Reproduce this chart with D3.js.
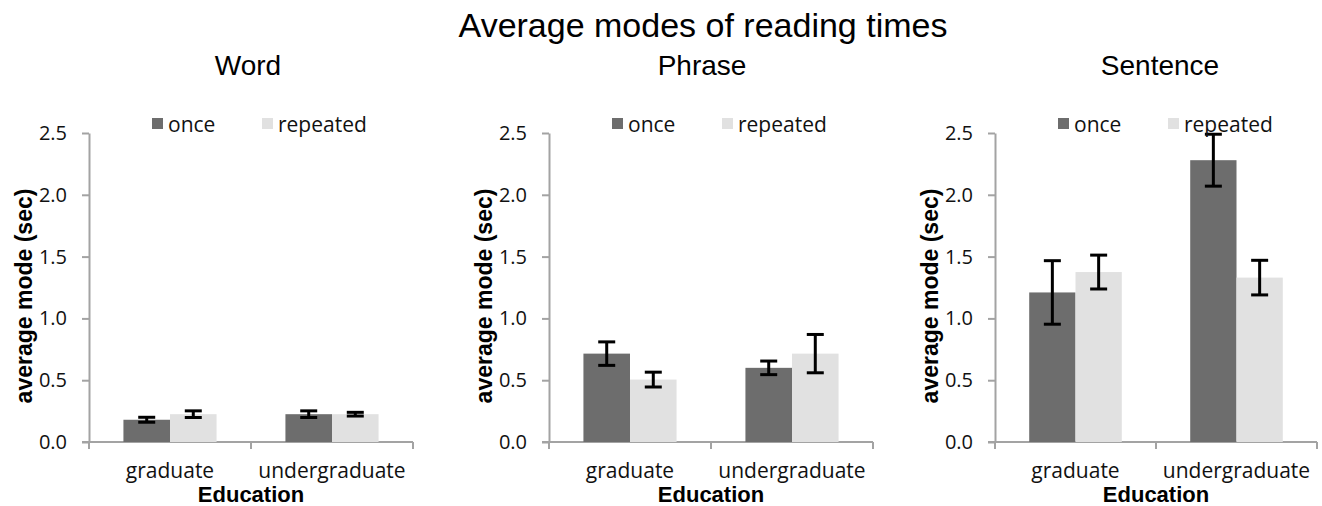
<!DOCTYPE html>
<html lang="en">
    <head>
        <meta charset="utf-8">
        <title>Average modes of reading times</title>
		<script src="https://d3js.org/d3.v7.min.js"></script>
		<style>
			body { margin: 0; background: #fff; }
			svg { display: block; }
		</style>
    </head>
    <body>
		<div class="chart"></div>

        <script type="text/javascript">
			// values
			const categories = ['graduate', 'undergraduate'];
			const series = ['once', 'repeated'];
			const panels = ['Word', 'Phrase', 'Sentence'];
			const yTicks = [0, 0.5, 1.0, 1.5, 2.0, 2.5];

			const wordOnce = [0.18, 0.225];
			const wordRepeated = [0.225, 0.225];
			const wordOnceErr = [0.02, 0.027];
			const wordRepeatedErr = [0.027, 0.015];

			const phraseOnce = [0.715, 0.60];
			const phraseRepeated = [0.505, 0.715];
			const phraseOnceErr = [0.095, 0.055];
			const phraseRepeatedErr = [0.06, 0.155];

			const sentenceOnce = [1.21, 2.28];
			const sentenceRepeated = [1.375, 1.33];
			const sentenceOnceErr = [0.257, 0.21];
			const sentenceRepeatedErr = [0.137, 0.14];

			const values = {
				Word: [wordOnce, wordRepeated],
				Phrase: [phraseOnce, phraseRepeated],
				Sentence: [sentenceOnce, sentenceRepeated]
			};
			const errors = {
				Word: [wordOnceErr, wordRepeatedErr],
				Phrase: [phraseOnceErr, phraseRepeatedErr],
				Sentence: [sentenceOnceErr, sentenceRepeatedErr]
			};

			const width = 1322;
			const height = 506;
			const colors = d3.scaleOrdinal().domain(series).range(['#6d6d6d', '#e1e1e1']);
			const axisColor = '#a3a3a3';
			const labelFont = '"Open Sans", "DejaVu Sans", sans-serif';
			const boldFont = '"Liberation Sans", Arial, sans-serif';

			// layout of the three panels (y axis position, plot width, title centre)
			const axisX = [89, 549, 995];
			const plotW = [324, 324, 322];
			const titleX = [248, 702, 1160];
			const plotTop = 133;
			const plotBottom = 442;

			const svg = d3.select('.chart')
				.append('svg')
				.attr('width', width)
				.attr('height', height);

			svg.append('text')
				.attr('x', 703)
				.attr('y', 37)
				.attr('text-anchor', 'middle')
				.style('font-family', boldFont)
				.style('font-size', '34px')
				.attr('fill', '#000')
				.text('Average modes of reading times');

			const y = d3.scaleLinear().domain([0, 2.5]).range([plotBottom, plotTop]);

			panels.forEach((name, p) => {
				const g = svg.append('g');
				const x0 = axisX[p];
				const x = d3.scaleBand()
					.domain(categories)
					.range([x0, x0 + plotW[p]]);
				const groupW = x.bandwidth() * 0.575;
				const x1 = d3.scaleBand()
					.domain(series)
					.range([(x.bandwidth() - groupW) / 2, (x.bandwidth() + groupW) / 2]);

				// panel title
				g.append('text')
					.attr('x', titleX[p])
					.attr('y', 75)
					.attr('text-anchor', 'middle')
					.style('font-family', boldFont)
					.style('font-size', '28px')
					.text(name);

				// y axis
				const yAxis = g.append('g')
					.attr('transform', `translate(${x0},0)`)
					.call(d3.axisLeft(y)
						.tickValues(yTicks)
						.tickFormat(d3.format('.1f'))
						.tickSize(7)
						.tickSizeOuter(0)
						.tickPadding(15));
				yAxis.select('.domain').attr('stroke', axisColor).attr('stroke-width', 2);
				yAxis.selectAll('.tick line').attr('stroke', axisColor).attr('stroke-width', 2);
				yAxis.selectAll('.tick text')
					.style('font-family', labelFont)
					.style('font-size', '20px')
					.attr('fill', '#111');

				// x axis: line plus ticks at the band edges
				g.append('line')
					.attr('x1', x0 - 7)
					.attr('x2', x0 + plotW[p])
					.attr('y1', y(0))
					.attr('y2', y(0))
					.attr('stroke', axisColor)
					.attr('stroke-width', 2);
				const edges = categories.map(c => x(c)).concat([x(categories[categories.length - 1]) + x.bandwidth()]);
				g.selectAll('.xtick')
					.data(edges)
					.enter()
					.append('line')
					.attr('x1', d => d)
					.attr('x2', d => d)
					.attr('y1', y(0))
					.attr('y2', y(0) + 7)
					.attr('stroke', axisColor)
					.attr('stroke-width', 2);
				g.selectAll('.xlabel')
					.data(categories)
					.enter()
					.append('text')
					.attr('x', d => x(d) + x.bandwidth() / 2)
					.attr('y', 478)
					.attr('text-anchor', 'middle')
					.style('font-family', labelFont)
					.style('font-size', '21px')
					.attr('fill', '#111')
					.text(d => d);

				// axis titles
				g.append('text')
					.attr('x', x0 + plotW[p] / 2)
					.attr('y', 502)
					.attr('text-anchor', 'middle')
					.style('font-family', boldFont)
					.style('font-size', '22px')
					.style('font-weight', 'bold')
					.text('Education');
				g.append('text')
					.attr('transform', `translate(${x0 - 57},296) rotate(-90)`)
					.attr('text-anchor', 'middle')
					.style('font-family', boldFont)
					.style('font-size', '23px')
					.style('font-weight', 'bold')
					.text('average mode (sec)');

				// bars
				const rows = [];
				series.forEach((s, si) => {
					categories.forEach((c, ci) => {
						rows.push({
							series: s,
							category: c,
							value: values[name][si][ci],
							err: errors[name][si][ci]
						});
					});
				});

				g.selectAll('.bar')
					.data(rows)
					.enter()
					.append('rect')
					.attr('x', d => x(d.category) + x1(d.series))
					.attr('y', d => y(d.value))
					.attr('width', x1.bandwidth())
					.attr('height', d => y(0) - y(d.value))
					.attr('fill', d => colors(d.series));

				// error bars
				const cap = 8.5;
				const eb = g.selectAll('.err')
					.data(rows)
					.enter()
					.append('g')
					.attr('stroke', '#000')
					.attr('stroke-width', 3);
				const cx = d => x(d.category) + x1(d.series) + x1.bandwidth() / 2;
				eb.append('line')
					.attr('x1', cx).attr('x2', cx)
					.attr('y1', d => y(d.value - d.err))
					.attr('y2', d => y(d.value + d.err));
				eb.append('line')
					.attr('x1', d => cx(d) - cap).attr('x2', d => cx(d) + cap)
					.attr('y1', d => y(d.value + d.err))
					.attr('y2', d => y(d.value + d.err));
				eb.append('line')
					.attr('x1', d => cx(d) - cap).attr('x2', d => cx(d) + cap)
					.attr('y1', d => y(d.value - d.err))
					.attr('y2', d => y(d.value - d.err));

				// legend
				const legend = g.selectAll('.legend')
					.data(series)
					.enter()
					.append('g')
					.attr('transform', (d, i) => `translate(${x0 + 63 + i * 110},118)`);
				legend.append('rect')
					.attr('width', 11)
					.attr('height', 11)
					.attr('fill', d => colors(d));
				legend.append('text')
					.attr('x', 16)
					.attr('y', 14)
					.style('font-family', labelFont)
					.style('font-size', '21px')
					.attr('fill', '#111')
					.text(d => d);
			});
		</script>
    </body>
</html>
